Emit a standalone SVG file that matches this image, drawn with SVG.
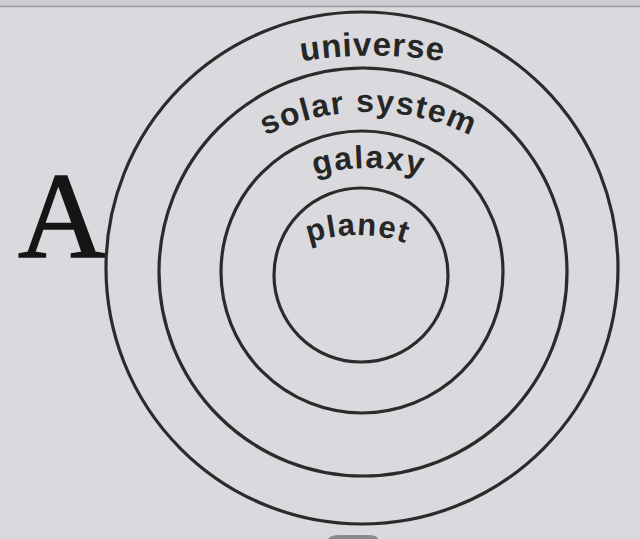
<svg xmlns="http://www.w3.org/2000/svg" width="640" height="539" viewBox="0 0 640 539">
  <style>
    .ring { fill: none; stroke: #2b2b2b; stroke-width: 3.2; }
    .lbl { font-family: "Liberation Sans", Arial, sans-serif; font-weight: bold; fill: #262626; }
    .big { font-family: "Liberation Serif", "Times New Roman", serif; fill: #151515; stroke: #151515; stroke-width: 1.5; }
  </style>
  <defs>
    <path id="pUniverse" d="M 252 72 A 450 450 0 0 1 492 72"/>
    <path id="pSolar" d="M 238 151.6 A 233 233 0 0 1 498 151.6"/>
    <path id="pGalaxy" d="M 268 194.8 A 200 200 0 0 1 468 194.8"/>
    <path id="pPlanet" d="M 267 265 A 150 150 0 0 1 447 265"/>
  </defs>
  <rect x="0" y="0" width="640" height="539" fill="#dadade"/>
  <rect x="0" y="0" width="640" height="6" fill="#cdcdd1"/>
  <line x1="0" y1="6.5" x2="640" y2="6.5" stroke="#9a9a9e" stroke-width="1.5"/>
  <path d="M 328 539 Q 330 535 340 535 L 368 535 Q 377 535 378 539 Z" fill="#8a8a8e"/>

  <g id="label-A">
    <text class="big" x="18" y="257" font-size="122">A</text>
  </g>

  <g id="node-universe">
    <circle class="ring" cx="362" cy="268" r="256"/>
    <text class="lbl" font-size="33"><textPath href="#pUniverse" startOffset="50%" text-anchor="middle" textLength="142" lengthAdjust="spacing">universe</textPath></text>
  </g>
  <g id="node-solar-system">
    <circle class="ring" cx="363" cy="272" r="204"/>
    <text class="lbl" font-size="32"><textPath href="#pSolar" startOffset="50%" text-anchor="middle" textLength="212" lengthAdjust="spacing">solar system</textPath></text>
  </g>
  <g id="node-galaxy">
    <circle class="ring" cx="362" cy="272" r="141"/>
    <text class="lbl" font-size="32"><textPath href="#pGalaxy" startOffset="50%" text-anchor="middle" textLength="108" lengthAdjust="spacing">galaxy</textPath></text>
  </g>
  <g id="node-planet">
    <circle class="ring" cx="361" cy="275" r="87"/>
    <text class="lbl" font-size="31"><textPath href="#pPlanet" startOffset="50%" text-anchor="middle" textLength="98" lengthAdjust="spacing">planet</textPath></text>
  </g>
  <g id="connectors"></g>
</svg>
